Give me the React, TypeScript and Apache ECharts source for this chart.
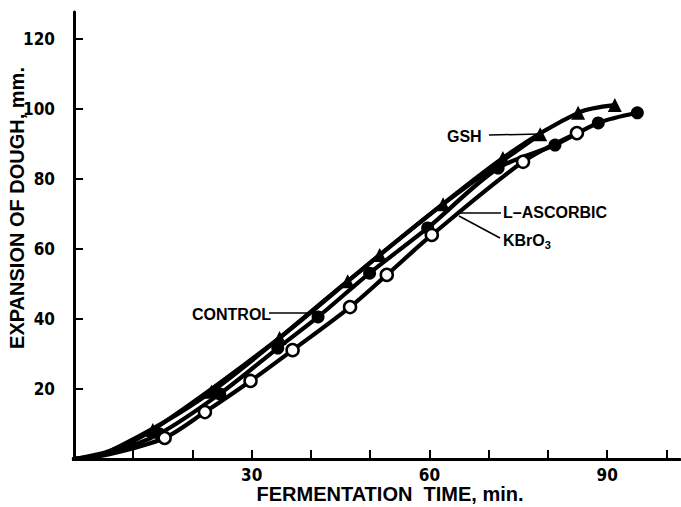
import React, { useEffect, useRef } from "react";
import * as echarts from "echarts";

// Marker readings (x = fermentation time, min; y = expansion, mm)
const GSH_X = [13.3, 34.7, 51.6, 72.4, 85.1, 91.3];
const GSH_Y = [8.3, 34.6, 58.3, 86.0, 98.9, 101.1];
const ASC_X = [23.2, 46.2, 62.3, 78.7];
const ASC_Y = [19.2, 50.8, 72.8, 92.8];
const CONTROL_X = [14.4, 24.6, 34.4, 41.2, 49.9, 59.7, 71.6, 81.2, 88.5, 95.1];
const CONTROL_Y = [7.2, 18.6, 31.7, 40.6, 53.1, 66.0, 83.1, 89.7, 96.0, 98.9];
const KBRO3_X = [15.3, 22.1, 29.8, 36.9, 46.6, 52.8, 60.4, 75.8, 84.9];
const KBRO3_Y = [6.0, 13.4, 22.3, 31.1, 43.4, 52.6, 64.0, 84.9, 93.1];

// curve starts (read near origin)
const START_X = [0, 6];
const GSH_START_Y = [0, 2.3];
const ASC_START_Y = [0, 2.2];
const CONTROL_START_Y = [0, 1.8];
const KBRO3_START_Y = [0, 1.4];

const X_LABELS = [30, 60, 90];
const Y_LABELS = [20, 40, 60, 80, 100, 120];

const NARROW = "'Liberation Sans Narrow', 'DejaVu Sans Condensed', 'Arial Narrow', sans-serif";
const SANS = "'Liberation Sans', Arial, Helvetica, sans-serif";

const pairs = (xs: number[], ys: number[]) => xs.map((x, i) => [x, ys[i]]);

export default function App() {
  const ref = useRef<HTMLDivElement>(null);
  useEffect(() => {
    if (!ref.current) return;
    const chart = echarts.init(ref.current, null, { renderer: "svg" });

    const curve = (name: string, sx: number[], sy: number[], xs: number[], ys: number[]) => ({
      name: name + "-line",
      type: "line",
      data: [...pairs(sx, sy), ...pairs(xs, ys)],
      smooth: 0.3,
      showSymbol: false,
      symbol: "none",
      lineStyle: { color: "#000", width: 4.2, cap: "round", join: "round" },
      z: 2,
    });
    const marks = (name: string, xs: number[], ys: number[], symbol: string, size: number, open: boolean) => ({
      name,
      type: "scatter",
      data: pairs(xs, ys),
      symbol,
      symbolSize: size,
      itemStyle: open
        ? { color: "#fff", borderColor: "#000", borderWidth: 2.5, opacity: 1 }
        : { color: "#000", borderColor: "#000", borderWidth: 0, opacity: 1 },
      z: 3,
    });

    chart.setOption({
      animation: false,
      backgroundColor: "#fff",
      grid: { left: 74, right: 1, top: 12, bottom: 48 },
      xAxis: {
        type: "value",
        min: 0,
        max: 102.3,
        interval: 10,
        splitLine: { show: false },
        axisLine: { show: true, lineStyle: { color: "#000", width: 3 } },
        axisTick: { show: true, inside: true, length: 9, lineStyle: { color: "#000", width: 2 } },
        axisLabel: {
          color: "#000",
          fontFamily: NARROW,
          fontWeight: "bold",
          fontSize: 17,
          margin: 7,
          showMaxLabel: false,
          formatter: (v: number) => (X_LABELS.includes(v) ? String(v) : ""),
        },
      },
      yAxis: {
        type: "value",
        min: 0,
        max: 127.7,
        interval: 20,
        splitLine: { show: false },
        axisLine: { show: true, lineStyle: { color: "#000", width: 3 } },
        axisTick: { show: true, inside: true, length: 9, lineStyle: { color: "#000", width: 2 } },
        axisLabel: {
          color: "#000",
          fontFamily: NARROW,
          fontWeight: "bold",
          fontSize: 17,
          margin: 19,
          showMaxLabel: false,
          formatter: (v: number) => (Y_LABELS.includes(v) ? String(v) : ""),
        },
      },
      series: [
        curve("GSH", START_X, GSH_START_Y, GSH_X, GSH_Y),
        curve("L-ASCORBIC", START_X, ASC_START_Y, ASC_X, ASC_Y),
        curve("CONTROL", START_X, CONTROL_START_Y, CONTROL_X, CONTROL_Y),
        curve("KBrO3", START_X, KBRO3_START_Y, KBRO3_X, KBRO3_Y),
        marks("GSH", GSH_X, GSH_Y, "triangle", 14, false),
        marks("L-ASCORBIC", ASC_X, ASC_Y, "triangle", 14, false),
        marks("CONTROL", CONTROL_X, CONTROL_Y, "circle", 13, false),
        marks("KBrO3", KBRO3_X, KBRO3_Y, "circle", 12, true),
      ],
      graphic: [
        {
          type: "text",
          x: 17,
          y: 208,
          rotation: Math.PI / 2,
          style: {
            text: "EXPANSION OF DOUGH, mm.",
            fill: "#000",
            align: "center",
            verticalAlign: "middle",
            font: "bold 20px " + SANS,
          },
        },
        {
          type: "text",
          x: 390,
          y: 494,
          style: {
            text: "FERMENTATION  TIME, min.",
            align: "center",
            verticalAlign: "middle",
            fill: "#000",
            font: "bold 20px " + SANS,
          },
        },
        { type: "text", x: 447, y: 136, style: { text: "GSH", font: "bold 16px " + SANS, fill: "#000", verticalAlign: "middle" } },
        { type: "line", shape: { x1: 489, y1: 135, x2: 540, y2: 134 }, style: { stroke: "#000", lineWidth: 1.5 } },
        { type: "text", x: 503, y: 212, style: { text: "L–ASCORBIC", font: "bold 16px " + SANS, fill: "#000", verticalAlign: "middle" } },
        { type: "line", shape: { x1: 460, y1: 213, x2: 501, y2: 213 }, style: { stroke: "#000", lineWidth: 1.5 } },
        {
          type: "text",
          x: 503,
          y: 240,
          style: {
            text: "{a|KBrO}{s|3}",
            verticalAlign: "middle",
            rich: {
              a: { font: "bold 16px " + SANS, fill: "#000" },
              s: { font: "bold 11px " + SANS, fill: "#000", padding: [9, 0, 0, 0] },
            },
          },
        },
        { type: "line", shape: { x1: 459, y1: 216, x2: 500, y2: 238 }, style: { stroke: "#000", lineWidth: 1.5 } },
        { type: "text", x: 192, y: 314, style: { text: "CONTROL", font: "bold 16px " + SANS, fill: "#000", verticalAlign: "middle" } },
        { type: "line", shape: { x1: 269, y1: 313, x2: 316, y2: 313 }, style: { stroke: "#000", lineWidth: 1.5 } },
      ],
    });
    return () => chart.dispose();
  }, []);
  return (
    <div
      ref={ref}
      style={{ position: "absolute", left: 0, top: 0, width: 681, height: 507, background: "#fff" }}
    />
  );
}
